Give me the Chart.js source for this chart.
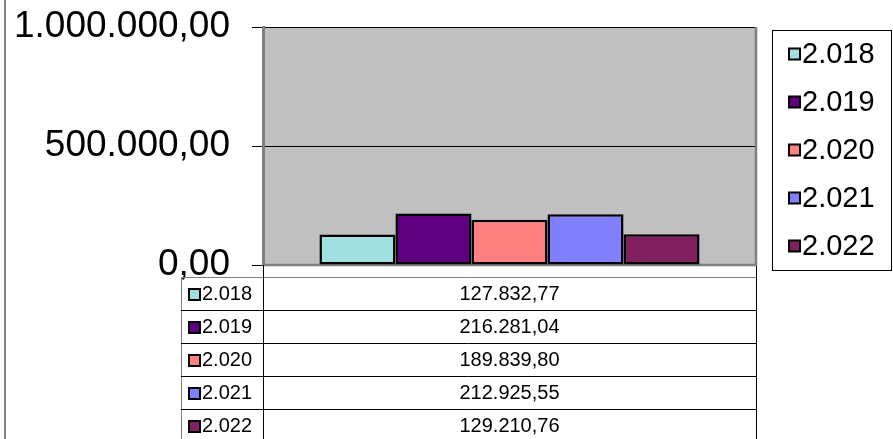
<!DOCTYPE html>
<html>
<head>
<meta charset="utf-8">
<script src="https://cdn.jsdelivr.net/npm/chart.js@4/dist/chart.umd.min.js"></script>
<style>
html,body{margin:0;padding:0;background:#fff;}
#wrap{width:893px;height:439px;position:relative;}
</style>
</head>
<body>
<div id="wrap"><canvas id="c" width="893" height="439"></canvas></div>
<script>
// ---- data ----
const categories = [''];
const seriesLabels = ['2.018', '2.019', '2.020', '2.021', '2.022'];
const seriesValues = [127832.77, 216281.04, 189839.80, 212925.55, 129210.76];
const yTickValues = [0, 500000, 1000000];
const seriesColors = ['#A0E0E0', '#600080', '#FF8080', '#8080FF', '#802060'];

function fmt(v) {
  const neg = v < 0; v = Math.abs(v);
  const fixed = v.toFixed(2);
  let [intPart, dec] = fixed.split('.');
  intPart = intPart.replace(/\B(?=(\d{3})+(?!\d))/g, '.');
  return (neg ? '-' : '') + intPart + ',' + dec;
}

const FONT = '"Liberation Sans", Arial, sans-serif';

const framePlugin = {
  id: 'frame',
  beforeDraw(chart) {
    const ctx = chart.ctx, a = chart.chartArea;
    ctx.save();
    ctx.fillStyle = '#fff';
    ctx.fillRect(0, 0, chart.width, chart.height);
    ctx.fillStyle = '#C0C0C0';
    ctx.fillRect(a.left, a.top, a.right - a.left, a.bottom - a.top);
    ctx.strokeStyle = '#808080';
    ctx.lineWidth = 2;
    ctx.beginPath(); ctx.moveTo(5, 0); ctx.lineTo(5, chart.height); ctx.stroke();
    ctx.restore();
  },
  beforeDatasetsDraw(chart) {
    const ctx = chart.ctx, a = chart.chartArea;
    ctx.save();
    ctx.strokeStyle = '#808080';
    ctx.lineWidth = 2.5;
    ctx.beginPath();
    ctx.moveTo(a.right, a.top); ctx.lineTo(a.right, a.bottom); ctx.lineTo(a.left, a.bottom);
    ctx.stroke();
    ctx.restore();
  },
  afterDraw(chart) {
    const ctx = chart.ctx, a = chart.chartArea;
    const ds = chart.data.datasets;
    ctx.save();
    // ---- legend ----
    const lx = 772, ly = 30, lw = 119, lh = 240;
    ctx.strokeStyle = '#000';
    ctx.lineWidth = 1;
    ctx.strokeRect(lx + 0.5, ly + 0.5, lw, lh);
    ctx.font = '29px ' + FONT;
    ctx.textBaseline = 'middle';
    ctx.textAlign = 'left';
    ds.forEach((d, i) => {
      const cy = 54 + i * 48;
      ctx.fillStyle = d.backgroundColor;
      ctx.fillRect(789, cy - 5.5, 11, 11);
      ctx.lineWidth = 2;
      ctx.strokeStyle = '#000';
      ctx.strokeRect(789, cy - 5.5, 11, 11);
      ctx.fillStyle = '#000';
      ctx.fillText(d.label, 802, cy + 1);
    });
    // ---- data table ----
    const tTop = 277, rowH = 33, tLeft = 181, tMid = a.left, tRight = a.right;
    const nRows = ds.length;
    ctx.lineWidth = 1;
    ctx.strokeStyle = '#808080';
    ctx.beginPath();
    ctx.moveTo(tLeft, tTop + 0.5); ctx.lineTo(tRight, tTop + 0.5);
    ctx.moveTo(tLeft + 0.5, tTop); ctx.lineTo(tLeft + 0.5, chart.height);
    ctx.stroke();
    ctx.strokeStyle = '#000';
    ctx.beginPath();
    for (let i = 1; i < nRows; i++) {
      const y = tTop + i * rowH + 0.5;
      ctx.moveTo(tLeft, y); ctx.lineTo(tRight, y);
    }
    ctx.moveTo(tMid + 0.5, a.bottom); ctx.lineTo(tMid + 0.5, chart.height);
    ctx.moveTo(tRight + 0.5, a.bottom + 1); ctx.lineTo(tRight + 0.5, chart.height);
    ctx.stroke();
    ctx.font = '20px ' + FONT;
    ds.forEach((d, i) => {
      const cy = tTop + i * rowH + rowH / 2 + 1;
      ctx.fillStyle = d.backgroundColor;
      ctx.fillRect(189, cy - 5.5, 11, 11);
      ctx.lineWidth = 2;
      ctx.strokeStyle = '#000';
      ctx.strokeRect(189, cy - 5.5, 11, 11);
      ctx.fillStyle = '#000';
      ctx.textAlign = 'left';
      ctx.fillText(d.label, 202, cy);
      ctx.textAlign = 'center';
      ctx.fillText(fmt(d.data[0]), (tMid + tRight) / 2, cy);
    });
    ctx.restore();
  }
};

const datasets = seriesLabels.map((lab, i) => ({
  label: lab,
  data: [seriesValues[i]],
  backgroundColor: seriesColors[i],
  borderColor: '#000',
  borderWidth: 2.5,
  borderSkipped: false,
  categoryPercentage: 0.771,
  barPercentage: 1.0
}));

new Chart(document.getElementById('c'), {
  type: 'bar',
  data: { labels: categories, datasets },
  plugins: [framePlugin],
  options: {
    responsive: false,
    animation: false,
    devicePixelRatio: 1,
    layout: { padding: { left: 0, top: 27, right: 137, bottom: 174 } },
    plugins: { legend: { display: false }, tooltip: { enabled: false } },
    scales: {
      x: { display: false },
      y: {
        min: 0,
        max: 1000000,
        afterBuildTicks(scale) { scale.ticks = yTickValues.map(v => ({ value: v })); },
        afterFit(scale) { scale.width = 263; scale.paddingTop = 0; scale.paddingBottom = 0; },
        ticks: {
          callback: v => fmt(v),
          font: { family: FONT, size: 37 },
          color: '#000',
          padding: 22
        },
        grid: { color: '#000', lineWidth: 1, tickLength: 11, tickColor: '#000' },
        border: { display: true, color: '#808080', width: 3 }
      }
    }
  }
});
</script>
</body>
</html>
